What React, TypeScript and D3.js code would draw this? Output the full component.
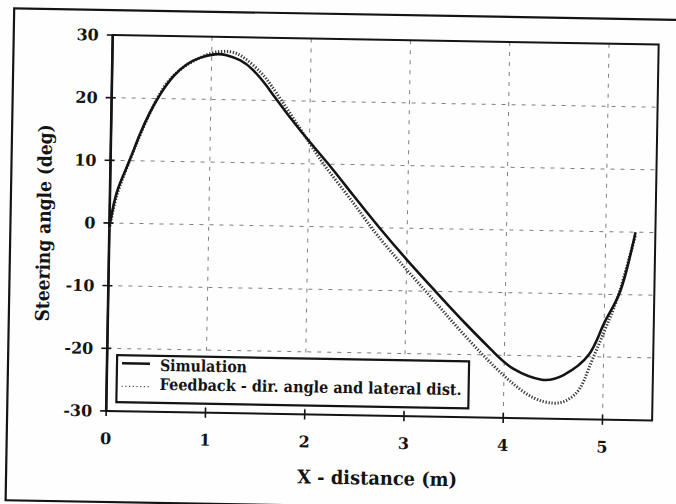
import React, { useRef, useEffect } from 'react';
import * as d3 from 'd3';

// values
const simX = [0, 0.03, 0.08, 0.18, 0.29, 0.39, 0.49, 0.62, 0.75, 0.88, 1.03, 1.15, 1.29, 1.42, 1.55, 1.65, 1.9, 2.19, 2.45, 2.72, 3.0, 3.29, 3.6, 3.89, 4.1, 4.38, 4.6, 4.85, 5.0, 5.16, 5.3];
const simY = [-0.5, 2.2, 5.5, 9.6, 14.2, 17.8, 20.7, 23.6, 25.5, 26.6, 27.2, 27.1, 26.3, 24.8, 22.5, 20.4, 15.4, 10.1, 5.1, 0, -5.0, -9.9, -15.0, -19.5, -22.2, -23.8, -23, -19.7, -14.6, -9.3, 0];
const fbX = [0, 0.04, 0.1, 0.2, 0.3, 0.44, 0.6, 0.8, 1.0, 1.15, 1.3, 1.5, 1.65, 1.9, 2.1, 2.3, 2.5, 2.7, 3.0, 3.3, 3.6, 3.9, 4.1, 4.3, 4.5, 4.65, 4.77, 4.85, 4.95, 5.05, 5.15, 5.3];
const fbY = [-1, 2.5, 6, 10.3, 14.4, 19.4, 23.4, 25.9, 27.4, 27.7, 27.0, 24.4, 21.4, 15.7, 11.0, 6.9, 2.9, -1.2, -6.6, -11.8, -17.0, -21.8, -24.6, -26.7, -27.5, -26.9, -25.0, -22.0, -18.0, -14.0, -9.5, -0.5];
const xTicks = [0, 1, 2, 3, 4, 5];
const yTicks = [-30, -20, -10, 0, 10, 20, 30];
const legendLabels = ['Simulation', 'Feedback - dir. angle and lateral dist.'];

const W = 676;
const H = 504;
const margin = { top: 39, right: 21, bottom: 89, left: 109 };
const font = "'DejaVu Serif', serif";
const ink = '#141414';

const App = () => {
  const svgRef = useRef<SVGSVGElement>(null);

  useEffect(() => {
    const svg = d3.select(svgRef.current);
    svg.selectAll('*').remove();

    const innerW = W - margin.left - margin.right;
    const innerH = H - margin.top - margin.bottom;
    const left = margin.left;
    const top = margin.top;
    const bottom = top + innerH;
    const right = left + innerW;

    const x = d3.scaleLinear().domain([0, 5.5]).range([left, right]);
    const y = d3.scaleLinear().domain([-30, 30]).range([bottom, top]);

    svg.append('rect').attr('width', W).attr('height', H).attr('fill', '#fefefe');

    // scan is slightly tilted
    const root = svg.append('g').attr('transform', 'rotate(1, 338, 252)');

    // outer frame of the figure
    root.append('rect')
      .attr('x', 10).attr('y', 14).attr('width', 700).attr('height', 492)
      .attr('fill', 'none').attr('stroke', ink).attr('stroke-width', 2.2);

    // grid
    const grid = root.append('g').attr('stroke', '#555').attr('stroke-width', 1)
      .attr('stroke-dasharray', '4,6').attr('opacity', 0.75);
    yTicks.filter(t => t > -30 && t < 30).forEach(t => {
      grid.append('line').attr('x1', left).attr('x2', right).attr('y1', y(t)).attr('y2', y(t));
    });
    xTicks.filter(t => t > 0).forEach(t => {
      grid.append('line').attr('x1', x(t)).attr('x2', x(t)).attr('y1', top).attr('y2', bottom);
    });

    // plot frame
    root.append('rect')
      .attr('x', left).attr('y', top).attr('width', innerW).attr('height', innerH)
      .attr('fill', 'none').attr('stroke', ink).attr('stroke-width', 2);
    root.append('line').attr('x1', left).attr('x2', left).attr('y1', top).attr('y2', bottom)
      .attr('stroke', ink).attr('stroke-width', 2.6);

    // ticks
    yTicks.forEach(t => {
      root.append('line').attr('x1', left - 6).attr('x2', left + 4).attr('y1', y(t)).attr('y2', y(t))
        .attr('stroke', ink).attr('stroke-width', 1.6);
      root.append('text').attr('x', left - 14).attr('y', y(t)).attr('dy', '0.36em')
        .attr('text-anchor', 'end').attr('font-family', font).attr('font-weight', 'bold')
        .attr('font-size', 16).attr('fill', ink).text(String(t));
    });
    xTicks.forEach(t => {
      root.append('line').attr('x1', x(t)).attr('x2', x(t)).attr('y1', bottom - 5).attr('y2', bottom + 5)
        .attr('stroke', ink).attr('stroke-width', 1.6);
      root.append('text').attr('x', x(t)).attr('y', bottom + 33)
        .attr('text-anchor', 'middle').attr('font-family', font).attr('font-weight', 'bold')
        .attr('font-size', 16).attr('fill', ink).text(String(t));
    });

    // axis titles
    root.append('text').attr('x', 381).attr('y', 484)
      .attr('text-anchor', 'middle').attr('font-family', font).attr('font-weight', 'bold')
      .attr('font-size', 19).attr('fill', ink)
      .attr('textLength', 160).attr('lengthAdjust', 'spacingAndGlyphs')
      .text('X - distance (m)');
    root.append('text')
      .attr('transform', 'translate(50, 228) rotate(-90)')
      .attr('text-anchor', 'middle').attr('font-family', font).attr('font-weight', 'bold')
      .attr('font-size', 19).attr('fill', ink)
      .attr('textLength', 197).attr('lengthAdjust', 'spacingAndGlyphs')
      .text('Steering angle (deg)');

    // series
    const line = d3.line<number[]>()
      .x(d => x(d[0]))
      .y(d => y(d[1]))
      .curve(d3.curveNatural);
    const fbPts = fbX.map((v, i) => [v, fbY[i]]);
    const simPts = simX.map((v, i) => [v, simY[i]]);

    root.append('path').attr('d', line(fbPts))
      .attr('fill', 'none').attr('stroke', '#3a3a3a').attr('stroke-width', 3)
      .attr('stroke-dasharray', '1.3,1.7');
    root.append('path').attr('d', line(simPts))
      .attr('fill', 'none').attr('stroke', ink).attr('stroke-width', 2.6);

    // legend
    const lx = left + 10;
    const ly = 359;
    const leg = root.append('g');
    leg.append('rect').attr('x', lx).attr('y', ly).attr('width', 352).attr('height', 47)
      .attr('fill', '#fefefe').attr('stroke', ink).attr('stroke-width', 2.2);
    leg.append('line').attr('x1', lx + 5).attr('x2', lx + 33).attr('y1', ly + 8).attr('y2', ly + 8)
      .attr('stroke', ink).attr('stroke-width', 2.4);
    leg.append('line').attr('x1', lx + 5).attr('x2', lx + 33).attr('y1', ly + 31).attr('y2', ly + 31)
      .attr('stroke', '#444').attr('stroke-width', 1.2).attr('stroke-dasharray', '1.2,2.5');
    leg.append('text').attr('x', lx + 43).attr('y', ly + 15)
      .attr('font-family', font).attr('font-weight', 'bold').attr('font-size', 16).attr('fill', ink)
      .attr('textLength', 87).attr('lengthAdjust', 'spacingAndGlyphs')
      .text(legendLabels[0]);
    leg.append('text').attr('x', lx + 43).attr('y', ly + 34)
      .attr('font-family', font).attr('font-weight', 'bold').attr('font-size', 16).attr('fill', ink)
      .attr('textLength', 302).attr('lengthAdjust', 'spacingAndGlyphs')
      .text(legendLabels[1]);
  }, []);

  return (
    <svg ref={svgRef} width={W} height={H} style={{ position: 'absolute', left: 0, top: 0 }}></svg>
  );
};

export default App;
